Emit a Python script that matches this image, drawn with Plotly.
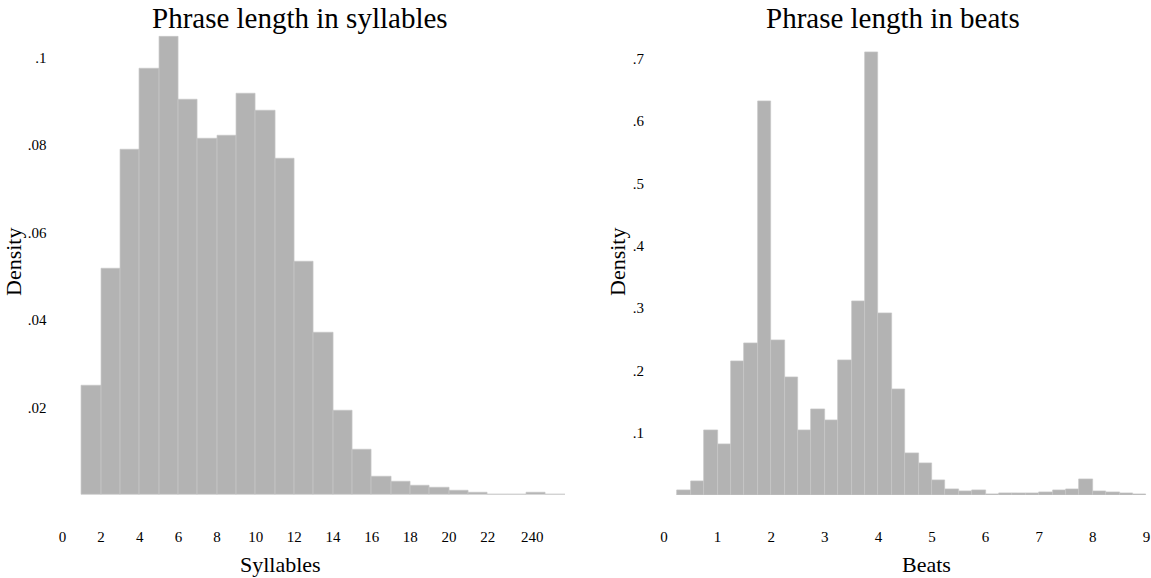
import plotly.graph_objects as go

# ---- data: phrase length in syllables (bins of width 1) ----
syl_bin_left = [1, 2, 3, 4, 5, 6, 7, 8, 9, 10, 11, 12, 13, 14, 15, 16, 17, 18, 19, 20, 21, 22, 23, 24, 25]
syl_density = [0.0249, 0.0517, 0.0790, 0.0975, 0.1047, 0.0903, 0.0815, 0.0821, 0.0917, 0.0878,
               0.0770, 0.0533, 0.0372, 0.0192, 0.0104, 0.0043, 0.0030, 0.0021, 0.0017, 0.0009,
               0.0006, 0.0002, 0.0002, 0.00045, 0.0001]
syl_bin_width = 1

# ---- data: phrase length in beats (bins of width 0.25) ----
beat_bin_left = [0.25, 0.5, 0.75, 1.0, 1.25, 1.5, 1.75, 2.0, 2.25, 2.5, 2.75, 3.0, 3.25, 3.5, 3.75,
                 4.0, 4.25, 4.5, 4.75, 5.0, 5.25, 5.5, 5.75, 6.0, 6.25, 6.5, 6.75, 7.0, 7.25, 7.5,
                 7.75, 8.0, 8.25, 8.5, 8.75]
beat_density = [0.0069, 0.0225, 0.1038, 0.0813, 0.2139, 0.2439, 0.6316, 0.2481, 0.1888, 0.1043,
                0.1375, 0.1198, 0.2155, 0.3102, 0.7102, 0.2909, 0.1695, 0.0668, 0.0508, 0.0230,
                0.0096, 0.0059, 0.0069, 0.0006, 0.0030, 0.0030, 0.0030, 0.0050, 0.0075, 0.0090,
                0.0251, 0.0053, 0.0043, 0.0027, 0.0016]
beat_bin_width = 0.25

# ---- tick labels ----
syl_tickvals = [0, 2, 4, 6, 8, 10, 12, 14, 16, 18, 20, 22, 24.3]
syl_ticktext = ["0", "2", "4", "6", "8", "10", "12", "14", "16", "18", "20", "22", "240"]
syl_ytickvals = [0.02, 0.04, 0.06, 0.08, 0.1]
syl_yticktext = [".02", ".04", ".06", ".08", ".1"]
beat_tickvals = [0, 1, 2, 3, 4, 5, 6, 7, 8, 9]
beat_ytickvals = [0.1, 0.2, 0.3, 0.4, 0.5, 0.6, 0.7]
beat_yticktext = [".1", ".2", ".3", ".4", ".5", ".6", ".7"]

FONT = "Liberation Serif, Times New Roman, serif"
BAR = "#b3b3b3"
EDGE = "#c6c6c6"

fig = go.Figure()
fig.add_trace(go.Bar(
    x=[b + syl_bin_width / 2 for b in syl_bin_left], y=syl_density, width=syl_bin_width,
    marker=dict(color=BAR, line=dict(color=EDGE, width=0.7)),
    xaxis="x", yaxis="y", showlegend=False, hoverinfo="skip"))
fig.add_trace(go.Bar(
    x=[b + beat_bin_width / 2 for b in beat_bin_left], y=beat_density, width=beat_bin_width,
    marker=dict(color=BAR, line=dict(color=EDGE, width=0.7)),
    xaxis="x2", yaxis="y2", showlegend=False, hoverinfo="skip"))

W, H = 1151, 578

def px(xp):
    return xp / W

def py(yp):
    return 1 - yp / H

axis_common = dict(showgrid=False, zeroline=False, showline=False, automargin=False,
                   ticks="outside", tickcolor="rgba(0,0,0,0)",
                   tickfont=dict(family=FONT, size=15, color="#000"))

fig.update_layout(
    width=W, height=H,
    margin=dict(l=0, r=0, t=0, b=0),
    paper_bgcolor="white", plot_bgcolor="white",
    bargap=0,
    font=dict(family=FONT, color="#000"),
    xaxis=dict(domain=[px(62.4), px(565)], range=[0, 26], tickmode="array",
               tickvals=syl_tickvals, ticktext=syl_ticktext, ticklen=28, anchor="y", **axis_common),
    yaxis=dict(domain=[py(495), py(35.6)], range=[0, 0.105], tickmode="array",
               tickvals=syl_ytickvals, ticktext=syl_yticktext, ticklen=12, anchor="x", **axis_common),
    xaxis2=dict(domain=[px(664), px(1146.4)], range=[0, 9], tickmode="array",
                tickvals=beat_tickvals, ticklen=28, anchor="y2", **axis_common),
    yaxis2=dict(domain=[py(495), py(49.3)], range=[0, 0.715], tickmode="array",
                tickvals=beat_ytickvals, ticktext=beat_yticktext, ticklen=16, anchor="x2", **axis_common),
    annotations=[
        dict(text="Phrase length in syllables", x=px(300), y=py(18), xref="paper", yref="paper",
             showarrow=False, font=dict(family=FONT, size=29, color="#000"), xanchor="center", yanchor="middle"),
        dict(text="Phrase length in beats", x=px(893), y=py(18), xref="paper", yref="paper",
             showarrow=False, font=dict(family=FONT, size=29, color="#000"), xanchor="center", yanchor="middle"),
        dict(text="Syllables", x=px(280), y=py(564), xref="paper", yref="paper",
             showarrow=False, font=dict(family=FONT, size=22, color="#000"), xanchor="center", yanchor="middle"),
        dict(text="Beats", x=px(926), y=py(564), xref="paper", yref="paper",
             showarrow=False, font=dict(family=FONT, size=22, color="#000"), xanchor="center", yanchor="middle"),
        dict(text="Density", x=px(13), y=py(262), xref="paper", yref="paper", textangle=-90,
             showarrow=False, font=dict(family=FONT, size=22, color="#000"), xanchor="center", yanchor="middle"),
        dict(text="Density", x=px(617), y=py(262), xref="paper", yref="paper", textangle=-90,
             showarrow=False, font=dict(family=FONT, size=22, color="#000"), xanchor="center", yanchor="middle"),
    ],
)

fig.write_html("out.html", config={"displayModeBar": False},
               post_script="document.body.style.margin='0';document.body.style.overflow='hidden';")
